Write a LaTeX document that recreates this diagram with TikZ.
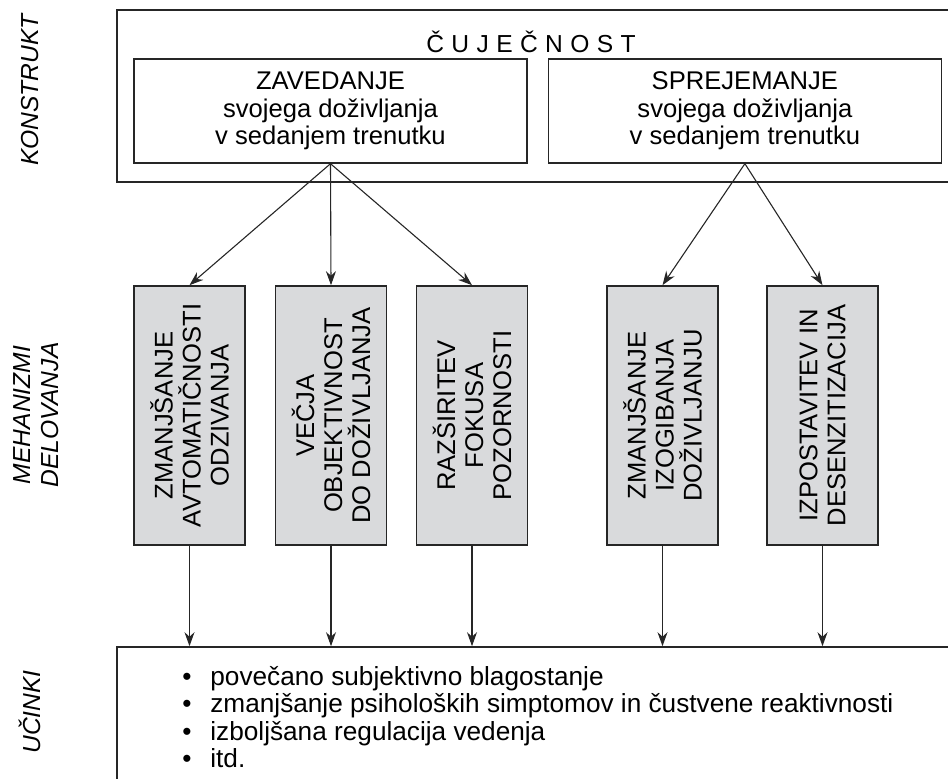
\documentclass[tikz,border=0pt]{standalone}
\usepackage{fontspec}
\setmainfont{Liberation Sans}
\usepackage{tikz}
\usetikzlibrary{arrows.meta, positioning}
\definecolor{boxgray}{HTML}{D9DADC}
\definecolor{linegray}{HTML}{262626}
\tikzstyle{bandbox} = [rectangle, 
minimum width=441.5pt, 
draw=linegray, 
line width=0.8pt]
\tikzstyle{construct} = [rectangle, 
minimum width=196.5pt, 
minimum height=52pt, 
draw=linegray, 
line width=0.7pt, 
fill=white, 
align=center, 
font=\fontsize{12.8}{13.75}\selectfont]
\tikzstyle{mechanism} = [rectangle, 
minimum width=55.5pt, 
minimum height=129.5pt, 
draw=linegray, 
line width=0.8pt, 
fill=boxgray]
\tikzstyle{mechtext} = [rotate=90, align=center, inner sep=0pt, font=\fontsize{12.8}{14}\selectfont]
\tikzstyle{tier} = [rotate=90, align=center, inner sep=0pt, font=\fontsize{12.3}{14}\selectfont\itshape]
\tikzstyle{arrow} = [line width=0.55pt, draw=linegray, -{Stealth[length=7pt,width=5pt]}]

\begin{document}
\begin{tikzpicture}[x=0.5pt, y=-0.5pt]
    \useasboundingbox (0,0) rectangle (948,779);
    \clip (0,0) rectangle (948,779);

    % konstrukt
    \node (mindful) [bandbox, minimum height=86pt] at (558.5,96) {};
    \node (title) [font=\fontsize{12.3}{14}\selectfont\addfontfeature{LetterSpace=30}] at (531,42) {ČUJEČNOST};
    \node (attend) [construct] at (330.5,111) {ZAVEDANJE\\svojega doživljanja\\v sedanjem trenutku};
    \node (accept) [construct, right=10pt of attend] {SPREJEMANJE\\svojega doživljanja\\v sedanjem trenutku};

    % mehanizmi
    \node (autom) [mechanism] at (189.5,415.5) {};
    \node (objekt) [mechanism] at (331,415.5) {};
    \node (fokus) [mechanism] at (472,415.5) {};
    \node (izogib) [mechanism] at (662.5,415.5) {};
    \node (desenz) [mechanism] at (822.5,415.5) {};
    \node (automtext) [mechtext] at (autom) {ZMANJŠANJE\\AVTOMATIČNOSTI\\ODZIVANJA};
    \node (objekttext) [mechtext] at (objekt) {VEČJA\\OBJEKTIVNOST\\DO DOŽIVLJANJA};
    \node (fokustext) [mechtext] at (fokus) {RAZŠIRITEV\\FOKUSA\\POZORNOSTI};
    \node (izogibtext) [mechtext] at (izogib) {ZMANJŠANJE\\IZOGIBANJA\\DOŽIVLJANJU};
    \node (desenztext) [mechtext] at (desenz) {IZPOSTAVITEV IN\\DESENZITIZACIJA};

    % ucinki
    \node (effects) [bandbox, minimum height=101.5pt] at (558.5,748.5) {};
    \node (list) [anchor=north west, align=left, inner sep=0pt, font=\fontsize{13.1}{13.75}\selectfont] at (182,666) {%
        \makebox[14pt][l]{\textbullet}povečano subjektivno blagostanje\\
        \makebox[14pt][l]{\textbullet}zmanjšanje psiholoških simptomov in čustvene reaktivnosti\\
        \makebox[14pt][l]{\textbullet}izboljšana regulacija vedenja\\
        \makebox[14pt][l]{\textbullet}itd.};

    % ravni
    \node (lkonstrukt) [tier] at (30,90) {KONSTRUKT};
    \node (lmehanizmi) [tier] at (36,415) {MEHANIZMI\\DELOVANJA};
    \node (lucinki) [tier] at (30,712) {UČINKI};

    \draw [arrow] (attend.south) -- (autom.north);
    \draw [arrow] (attend.south) -- (objekt.north);
    \draw [arrow] (attend.south) -- (fokus.north);
    \draw [arrow] (accept.south) -- (izogib.north);
    \draw [arrow] (accept.south) -- (desenz.north);
    \draw [arrow] (autom.south) -- (autom.south |- effects.north);
    \draw [arrow] (objekt.south) -- (objekt.south |- effects.north);
    \draw [arrow] (fokus.south) -- (fokus.south |- effects.north);
    \draw [arrow] (izogib.south) -- (izogib.south |- effects.north);
    \draw [arrow] (desenz.south) -- (desenz.south |- effects.north);
\end{tikzpicture}
\end{document}
